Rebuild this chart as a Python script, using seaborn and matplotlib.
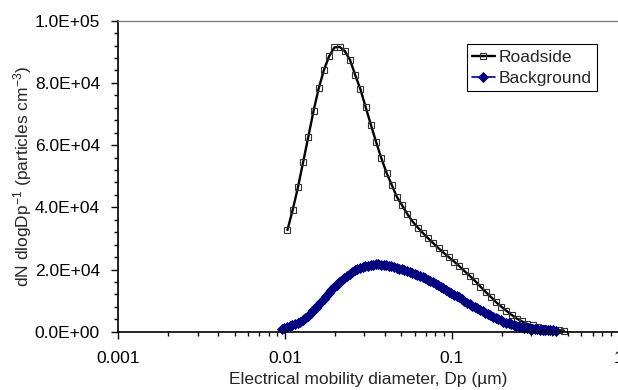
import numpy as np
import pandas as pd
import matplotlib
matplotlib.use("Agg")
import matplotlib.pyplot as plt
import seaborn as sns
from matplotlib.ticker import FixedLocator, LogLocator, MultipleLocator, FuncFormatter, NullFormatter

# Size distributions
roadside_dp = [0.01037, 0.01114, 0.01198, 0.01287, 0.01383, 0.01486, 0.01597, 0.01716, 0.01844, 0.01982,
               0.02130, 0.02289, 0.02459, 0.02643, 0.02840, 0.03052, 0.03280, 0.03524, 0.03787, 0.04070,
               0.04373, 0.04699, 0.05050, 0.05427, 0.05832, 0.06266, 0.06734, 0.07236, 0.07776, 0.08356,
               0.08980, 0.09650, 0.1037, 0.1114, 0.1198, 0.1287, 0.1383, 0.1486, 0.1597, 0.1716,
               0.1844, 0.1982, 0.2130, 0.2289, 0.2459, 0.2643, 0.2840, 0.3052, 0.3279, 0.3524,
               0.3787, 0.4070, 0.4373, 0.4699]
roadside_dn = [32700, 39100, 46400, 54500, 62700, 71000, 78300, 84200, 88600, 91400,
               91600, 90200, 87400, 82500, 77900, 72200, 66500, 61000, 55800, 51100,
               47200, 43300, 40600, 37800, 35400, 33500, 31700, 30000, 28400, 26800,
               25300, 23900, 22500, 21000, 19400, 17900, 16300, 14500, 12800, 11200,
               9500, 8100, 6700, 5400, 4200, 3300, 2500, 2000, 1500, 1200,
               870, 640, 480, 350]

background_dp = [0.009600, 0.009952, 0.010316, 0.010694, 0.011086, 0.011492, 0.011913, 0.012349, 0.012802, 0.013271,
                 0.013757, 0.014261, 0.014783, 0.015325, 0.015886, 0.016468, 0.017072, 0.017697, 0.018345, 0.019017,
                 0.019714, 0.020436, 0.021185, 0.021961, 0.022765, 0.023599, 0.024464, 0.025360, 0.026289, 0.027252,
                 0.028250, 0.029285, 0.030358, 0.031470, 0.032623, 0.033818, 0.035057, 0.036341, 0.037672, 0.039052,
                 0.040483, 0.041966, 0.043503, 0.045097, 0.046749, 0.048462, 0.050237, 0.052077, 0.053985, 0.055962,
                 0.058013, 0.060137, 0.062340, 0.064624, 0.066992, 0.069445, 0.071989, 0.074627, 0.077360, 0.080195,
                 0.083132, 0.086178, 0.089335, 0.092607, 0.09600, 0.09952, 0.10316, 0.10694, 0.11086, 0.11492,
                 0.11913, 0.12349, 0.12802, 0.13271, 0.13757, 0.14261, 0.14783, 0.15325, 0.15886, 0.16468,
                 0.17072, 0.17697, 0.18345, 0.19017, 0.19714, 0.20436, 0.21185, 0.21961, 0.22765, 0.23599,
                 0.24464, 0.25360, 0.26289, 0.27252, 0.28250, 0.29285, 0.30358, 0.31470, 0.32623, 0.33818,
                 0.35057, 0.36341, 0.37672, 0.39052, 0.40483, 0.41966]
background_dn = [1000, 1210, 1500, 1785, 2090, 2400, 2755, 3215, 3835, 4460,
                 5175, 6010, 6850, 7690, 8610, 9590, 10570, 11550, 12460, 13350,
                 14250, 15100, 15900, 16650, 17350, 18000, 18600, 19150, 19700, 20150,
                 20500, 20800, 21050, 21280, 21420, 21530, 21620, 21650, 21600, 21530,
                 21460, 21270, 21010, 20760, 20510, 20280, 20040, 19810, 19580, 19350,
                 19010, 18640, 18280, 17910, 17550, 17180, 16770, 16290, 15820, 15340,
                 14860, 14380, 13900, 13400, 12900, 12410, 11950, 11490, 11030,
                 10480, 9920, 9380, 8880, 8400, 7930, 7460, 7000, 6550, 6100,
                 5660, 5230, 4810, 4390, 3990, 3610, 3260, 2940, 2640, 2360,
                 2100, 1870, 1660, 1470, 1300, 1150, 1020, 910, 810, 730,
                 660, 600, 545, 495, 450, 410, 375]

x_ticks = [0.001, 0.01, 0.1, 1]
y_ticks = [0, 20000, 40000, 60000, 80000, 100000]

road = pd.DataFrame({"Dp": roadside_dp, "dN": roadside_dn})
back = pd.DataFrame({"Dp": background_dp, "dN": background_dn})

sns.set_style("white")
plt.rcParams["font.family"] = ["Liberation Sans", "DejaVu Sans"]
plt.rcParams["mathtext.fontset"] = "custom"
plt.rcParams["mathtext.rm"] = "Liberation Sans"
plt.rcParams["mathtext.it"] = "Liberation Sans:italic"
plt.rcParams["mathtext.default"] = "regular"

fig = plt.figure(figsize=(6.18, 3.90), dpi=100)
ax = fig.add_axes([118 / 618, 1 - 331.7 / 390, 500.5 / 618, 311 / 390])

sns.lineplot(data=road, x="Dp", y="dN", ax=ax, sort=False, estimator=None,
             color="black", linewidth=1.7, marker="s", markersize=4.2,
             markerfacecolor="none", markeredgecolor="#333333", markeredgewidth=0.8,
             label="Roadside", clip_on=False)
sns.lineplot(data=back, x="Dp", y="dN", ax=ax, sort=False, estimator=None,
             color="#000080", linewidth=1.2, marker="D", markersize=5,
             markerfacecolor="#000080", markeredgecolor="#000080", markeredgewidth=0.6,
             label="Background", clip_on=False)

ax.set_xscale("log")
ax.set_xlim(0.001, 1)
ax.set_ylim(0, 100000)

ax.xaxis.set_major_locator(FixedLocator(x_ticks))
ax.xaxis.set_minor_locator(LogLocator(base=10, subs=np.arange(2, 10)))
ax.xaxis.set_major_formatter(FuncFormatter(lambda v, p: f"{v:g}"))
ax.xaxis.set_minor_formatter(NullFormatter())
ax.yaxis.set_major_locator(FixedLocator(y_ticks))
ax.yaxis.set_minor_locator(MultipleLocator(4000))
ax.yaxis.set_major_formatter(FuncFormatter(lambda v, p: f"{v:.1E}"))

ax.tick_params(which="major", direction="out", length=5, width=1, colors="black",
               labelsize=12.5, bottom=True, left=True, top=False, right=False)
ax.tick_params(axis="x", which="major", pad=9)
ax.tick_params(axis="y", which="major", pad=8)
ax.tick_params(which="minor", direction="out", length=3, width=1, colors="black",
               bottom=True, left=True, top=False, right=False)

for side in ["left", "bottom"]:
    ax.spines[side].set_color("black")
    ax.spines[side].set_linewidth(1.2)
ax.spines["top"].set_color("#808080")
ax.spines["top"].set_linewidth(1)
ax.spines["right"].set_visible(False)

ax.set_xlabel("Electrical mobility diameter, Dp (µm)", fontsize=12.5)
ax.set_ylabel(r"dN dlogDp$^{-1}$ (particles cm$^{-3}$)", fontsize=12.5)
ax.xaxis.set_label_coords(0.5, -0.13)
ax.yaxis.set_label_coords(-0.168, 0.5)

leg = ax.legend(loc="upper left", bbox_to_anchor=(0.697, 0.924), borderaxespad=0,
                fontsize=12.5, handlelength=1.3, handletextpad=0.25, borderpad=0.3,
                labelspacing=0.35, fancybox=False, framealpha=1, edgecolor="black")
leg.get_frame().set_linewidth(0.8)

fig.savefig("out.png", dpi=100)
